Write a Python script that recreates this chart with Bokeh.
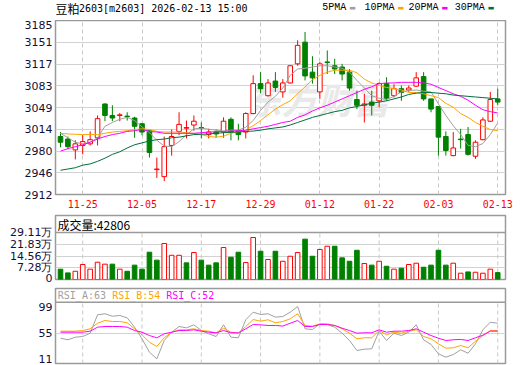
from bokeh.plotting import figure
from bokeh.models import Range1d, FixedTicker, Label, Span
from bokeh.layouts import column
from bokeh.embed import file_html
from bokeh.resources import INLINE

# ---------------- data ----------------
dates = ["11-20", "11-21", "11-24", "11-25", "11-26", "11-27", "11-28",
         "12-01", "12-02", "12-03", "12-04", "12-05", "12-08", "12-09", "12-10",
         "12-11", "12-12", "12-15", "12-16", "12-17", "12-18", "12-19", "12-22",
         "12-23", "12-24", "12-25", "12-26", "12-29", "12-30", "12-31", "01-05",
         "01-06", "01-07", "01-08", "01-09", "01-12", "01-13", "01-14", "01-15",
         "01-16", "01-19", "01-20", "01-21", "01-22", "01-23", "01-26", "01-27",
         "01-28", "01-29", "01-30", "02-02", "02-03", "02-04", "02-05", "02-06",
         "02-09", "02-10", "02-11", "02-12", "02-13"]
label_dates = ["11-25", "12-05", "12-17", "12-29", "01-12", "01-22", "02-03", "02-13"]

opens = [3003, 2999, 2982, 2989, 2991.5, 3001, 3054, 3036, 3036, 3035, 3032, 3023, 3012, 2951, 2940,
         2989, 3011, 3016, 3021, 3017, 3006, 3010, 3010, 3030, 3012, 3010, 3039, 3086, 3067, 3090,
         3073, 3087, 3117, 3151, 3104, 3073, 3120, 3114, 3112, 3104, 3061, 3052, 3057, 3059, 3086,
         3067, 3078, 3076, 3082, 3097, 3062, 3050, 3003, 2973, 2999, 3006, 2972, 2998, 3027, 3062]
highs = [3010, 3003, 2997, 3005, 3011, 3036, 3055, 3052, 3040, 3041, 3034, 3024, 3012, 2970, 3003,
         3014, 3041, 3028, 3036, 3025, 3015, 3014, 3033, 3033, 3023, 3041, 3099, 3104, 3093, 3104,
         3093, 3115, 3154, 3167, 3129, 3120, 3138, 3125, 3117, 3109, 3075, 3070, 3075, 3088, 3096,
         3085, 3083, 3083, 3104, 3104, 3062, 3050, 3011, 3010, 3015, 3018, 2997, 3033, 3073, 3078]
lows = [2986, 2983, 2967, 2975, 2989, 2989, 3027, 3027, 3027, 3028, 3001, 3005, 2970, 2938, 2933,
        2973, 3005, 3000, 3012, 3000, 3000, 3001, 3001, 2997, 2997, 3000, 3038, 3071, 3066, 3073,
        3064, 3086, 3114, 3091, 3086, 3062, 3101, 3101, 3091, 3075, 3046, 3025, 3036, 3049, 3059,
        3064, 3059, 3073, 3081, 3059, 3041, 2973, 2973, 2972, 2984, 2973, 2968, 2997, 3026, 3052]
closes = [2994, 2987, 2991.5, 2995, 2998, 3031, 3036, 3032, 3037, 3034, 3019, 3010, 2978, 2952, 2987,
          3003, 3022, 3017, 3027, 3016, 3010, 3007, 3027, 3010, 3006, 3039, 3086, 3078, 3087, 3080,
          3087, 3114, 3146, 3098, 3095, 3117, 3119, 3109, 3101, 3079, 3052, 3054, 3052, 3086, 3063,
          3078, 3072, 3079, 3095, 3062, 3046, 3002, 2981, 2985, 2998, 2975, 2994, 3029, 3061, 3057]

volumes = [63800, 41000, 51000, 93000, 64000, 107000, 95000, 95000, 64000, 51000, 89000, 64000,
           169000, 120000, 223000, 150000, 150000, 103000, 167000, 120000, 89000, 103000, 198000,
           138000, 169000, 105000, 260000, 175000, 124000, 175000, 113000, 144000, 167000, 250000,
           144000, 186000, 206000, 206000, 134000, 113000, 181000, 99000, 89000, 113000, 82000,
           64000, 70000, 93000, 101000, 76000, 89000, 181000, 89000, 101000, 39000, 47000, 45000,
           39000, 64000, 42806]

ma5 = [3008, 3001, 2994, 2991.5, 2994, 3001, 3019, 3025, 3030, 3033, 3028, 3018, 3009, 2997, 2988,
       2987, 2995, 3006, 3015, 3016, 3014.5, 3013, 3011.5, 3013, 3013, 3017.5, 3028, 3044, 3057, 3066,
       3079, 3099, 3109, 3110, 3112, 3114, 3114, 3112, 3110, 3104, 3091, 3079, 3067, 3063, 3061,
       3066, 3073, 3075, 3076, 3074, 3073, 3054, 3036, 3020, 3006, 2989, 2987, 2992, 3006, 3024]
ma10 = [3008, 3007, 3006.5, 3006, 3006, 3006, 3008, 3010, 3011, 3012, 3014, 3015, 3014, 3011, 3010,
        3010, 3010, 3009, 3008, 3006, 3003, 3002, 3003.5, 3008, 3010.5, 3013, 3020, 3028, 3037, 3046,
        3053, 3059, 3070, 3081, 3092, 3099, 3104, 3107, 3107, 3107, 3103, 3093, 3087, 3083, 3080,
        3078, 3076, 3072, 3072, 3070, 3067, 3064, 3055, 3049, 3039, 3033, 3025, 3019, 3014, 3012]
ma20 = [2980, 2984, 2987, 2990, 2994, 2999, 3003, 3006, 3008, 3011, 3012, 3014, 3011, 3010, 3008,
        3008, 3008, 3008, 3008, 3009, 3010, 3010.5, 3011, 3011.5, 3012, 3013, 3015, 3017, 3019, 3022,
        3025, 3027, 3033, 3037, 3043, 3048, 3052, 3057, 3062, 3067, 3072, 3077, 3081, 3086, 3087,
        3087, 3088, 3088, 3088, 3087, 3085, 3080, 3075, 3070, 3066, 3060, 3052, 3045, 3042, 3040]
ma30 = [2950, 2952, 2954, 2958, 2960, 2964, 2969, 2975, 2979, 2985, 2990, 2993, 2996, 2998, 2999,
        3001, 3002, 3004, 3006, 3006.5, 3007, 3008, 3009, 3009.5, 3010, 3011, 3011.5, 3013, 3015, 3016.5,
        3018, 3021, 3025, 3029, 3033, 3036, 3039, 3042, 3044, 3048, 3050, 3053, 3055, 3057, 3059,
        3062, 3065, 3069, 3071, 3072, 3072, 3071, 3070, 3068, 3067, 3066, 3065, 3064, 3063, 3062]

rsi_a = [46.6, 43.9, 48.3, 49.4, 55, 86, 87.7, 83.6, 84.8, 80.9, 65.1, 45.6, 23, 11.9, 42.7,
         56.7, 66.3, 64, 69.1, 59.5, 54, 49.4, 69.1, 48.3, 47.3, 77.6, 90.4, 86.5, 87.7, 82,
         83.1, 90.4, 99.9, 62.4, 61.2, 70.8, 69.6, 65.1, 55, 42.7, 25.9, 28.1, 28.7, 58.4, 42.7,
         55, 51.1, 56.7, 69.1, 43.9, 36, 20.3, 14.6, 19.1, 27, 21.3, 37.1, 60.7, 73.5, 71.8]
rsi_b = [58.4, 58.4, 58.4, 59.5, 62.4, 71.8, 76.4, 74.7, 74.7, 72.5, 62.4, 52.3, 39.8, 32.6, 47.3,
         56.7, 60.7, 60.7, 62.4, 59.5, 58.4, 55.7, 63.4, 56.7, 55, 66.3, 78, 75.2, 77.6, 72.5,
         74.7, 79.2, 87.7, 68, 66.8, 70.8, 70.8, 68, 62.4, 55, 45.6, 47.3, 47.3, 59.5, 52.3,
         56.7, 55, 58.4, 60.7, 49.4, 45.6, 37.1, 29.8, 30.4, 34.3, 30.4, 41.5, 51.1, 59.5, 59.5]
rsi_c = [56.7, 56.7, 56.7, 56.7, 58.4, 65.1, 66.3, 66.3, 66.3, 65.1, 59.5, 56.7, 51.1, 47.3, 54,
         56.7, 59.5, 59.5, 60.7, 58.4, 56.7, 55.7, 59.5, 55.7, 55.7, 62.4, 69.6, 69.1, 68, 68,
         67, 71.8, 76.4, 66.3, 66.3, 69.6, 69.6, 68, 63.4, 59.5, 55, 55.7, 55.7, 60.7, 56.7,
         58.4, 58.4, 59.5, 62.4, 56.7, 51.1, 46.6, 42.7, 43.9, 44.5, 42.7, 47.3, 51.6, 58.4, 58.4]

price_min, price_max = 2912, 3185
price_tick_labels = ["2912", "2946", "2980", "3014", "3049", "3083", "3117", "3151", "3185"]
vol_axis_max = 291100
vol_tick_labels = ["0", "7.28万", "14.56万", "21.83万", "29.11万"]
rsi_tick_vals = [11, 55, 99]
rsi_mid = 55

title_cn = "豆粕"
title_rest = "2603[m2603] 2026-02-13 15:00"
vol_title = "成交量:42806"
rsi_titles = ["RSI_A:63", "RSI_B:54", "RSI_C:52"]
ma_names = ["5PMA", "10PMA", "20PMA", "30PMA"]

# ---------------- styles ----------------
RED = "#ff0000"
GREEN = "#008000"
MA_COLORS = ["#a0a0a0", "#ffa500", "#ff00ff", "#00703c"]
FRAME = "#9a9a9a"
GRID = "#d2d2d2"
DASH = "#c8c8c8"
AXIS_TXT = "#10103a"
AXIS_FONT = "DejaVu Sans"
LEFT, RIGHT = 55, 15

N = len(closes)
idx = list(range(N))
tick_idx = [dates.index(d) for d in label_dates]
up = [c >= o for o, c in zip(opens, closes)]
c_line = [RED if u else GREEN for u in up]
c_fill = ["white" if u else GREEN for u in up]
b_top = [max(o, c) for o, c in zip(opens, closes)]
b_bot = [min(o, c) for o, c in zip(opens, closes)]
v_up = [up[0]] + [closes[i] >= closes[i - 1] for i in range(1, N)]
v_line = [RED if u else GREEN for u in v_up]
v_fill = ["white" if u else GREEN for u in v_up]

x_range = Range1d(-0.675, N + 0.05)
BODY_W = 0.62


def style_left_axis(p, size="11px"):
    ax = p.yaxis[0]
    ax.axis_line_color = None
    ax.major_tick_out = 0
    ax.major_tick_in = 0
    ax.minor_tick_out = 0
    ax.minor_tick_in = 0
    ax.major_label_standoff = 3
    ax.major_label_text_color = AXIS_TXT
    ax.major_label_text_font = AXIS_FONT
    ax.major_label_text_font_size = size


def base_fig(height, y_range, top, bottom, with_x=False):
    p = figure(width=520, height=height, x_range=x_range, y_range=y_range,
               output_backend="svg", toolbar_location=None, title=None,
               min_border_left=LEFT, min_border_right=RIGHT,
               min_border_top=top, min_border_bottom=bottom,
               x_axis_location="below" if with_x else None)
    p.outline_line_color = FRAME
    p.outline_line_width = 1.5
    p.background_fill_color = "white"
    p.border_fill_color = "white"
    return p


# ---------------- header strip (title + MA legend) ----------------
p0 = figure(width=520, height=20, x_range=Range1d(0, 1), y_range=Range1d(0, 1),
            output_backend="svg", toolbar_location=None, title=None,
            min_border_left=LEFT, min_border_right=RIGHT, min_border_top=0, min_border_bottom=0,
            x_axis_location=None, y_axis_location=None)
p0.outline_line_color = None
p0.grid.visible = False
p0.background_fill_color = "white"
p0.border_fill_color = "white"
# x below is measured from the left edge of the plot frame (canvas x 55)
p0.add_layout(Label(x=0, y=12, x_units="screen", y_units="screen", text=title_cn,
                    text_font="Noto Sans CJK SC", text_font_size="12px", text_color="#000000",
                    text_baseline="middle"))
p0.add_layout(Label(x=23.5, y=12, x_units="screen", y_units="screen", text=title_rest,
                    text_font="DejaVu Sans Mono", text_font_size="10px", text_color="#000000",
                    text_baseline="middle"))
leg_x = [266.7, 309, 353, 399.3]
for name, col, lx in zip(ma_names, MA_COLORS, leg_x):
    p0.add_layout(Label(x=lx, y=13, x_units="screen", y_units="screen", text=name,
                        text_font="Liberation Mono", text_font_size="10px", text_color="#000000",
                        text_baseline="middle"))
    p0.add_layout(Label(x=lx + 6.0 * len(name) + 3, y=13, x_units="screen", y_units="screen",
                        text="▬", text_font="DejaVu Sans", text_font_size="7px", text_color=col,
                        text_baseline="middle"))

# ---------------- main (price) ----------------
p1 = base_fig(194, Range1d(price_min, price_max), 0, 20, with_x=True)
step = (price_max - price_min) / (len(price_tick_labels) - 1)
ptick_vals = [price_min + k * step for k in range(len(price_tick_labels))]
style_left_axis(p1)
p1.yaxis[0].ticker = FixedTicker(ticks=ptick_vals)
p1.yaxis[0].major_label_overrides = {v: s for v, s in zip(ptick_vals, price_tick_labels)}
p1.ygrid.ticker = FixedTicker(ticks=ptick_vals[1:-1])
p1.ygrid.grid_line_color = GRID

xa = p1.xaxis[0]
xa.ticker = FixedTicker(ticks=tick_idx)
xa.major_label_overrides = {i: dates[i] for i in tick_idx}
xa.axis_line_color = None
xa.major_tick_out = 0
xa.major_tick_in = 0
xa.minor_tick_out = 0
xa.minor_tick_in = 0
xa.major_label_standoff = 5
xa.major_label_text_color = RED
xa.major_label_text_font = "DejaVu Sans Mono"
xa.major_label_text_font_size = "10px"
p1.xgrid.grid_line_color = DASH
p1.xgrid.grid_line_dash = "4 3"

p1.add_layout(Label(x=190, y=97, x_units="screen", y_units="screen", text="东方财富",
                    text_font="Noto Sans CJK SC", text_font_size="36px", text_font_style="bold italic",
                    text_color="#e9e9e9", text_baseline="middle", level="underlay"))

p1.segment(x0=idx, y0=lows, x1=idx, y1=highs, line_color=c_line, line_width=1)
p1.vbar(x=idx, width=BODY_W, top=b_top, bottom=b_bot, fill_color=c_fill, line_color=c_line, line_width=1)
for series, col in zip([ma5, ma10, ma20, ma30], MA_COLORS):
    p1.line(idx, series, line_color=col, line_width=1)

# ---------------- volume ----------------
vol_frame_px, vol_plot_px = 64, 47
vol_top = vol_axis_max * vol_frame_px / vol_plot_px
p2 = base_fig(70, Range1d(0, vol_top), 1, 5)
vstep = vol_axis_max / (len(vol_tick_labels) - 1)
vtick_vals = [round(k * vstep) for k in range(len(vol_tick_labels))]
style_left_axis(p2)
p2.yaxis[0].ticker = FixedTicker(ticks=vtick_vals)
p2.yaxis[0].major_label_overrides = {v: s for v, s in zip(vtick_vals, vol_tick_labels)}
p2.ygrid.ticker = FixedTicker(ticks=vtick_vals[1:-1])
p2.ygrid.grid_line_color = GRID
p2.xgrid.visible = False
p2.segment(x0=tick_idx, y0=[0] * len(tick_idx), x1=tick_idx, y1=[vol_axis_max] * len(tick_idx),
           line_color=DASH, line_dash="4 3", line_width=1)
p2.add_layout(Span(location=vol_axis_max, dimension="width", line_color=FRAME, line_width=1.5))
p2.vbar(x=idx, width=BODY_W, top=volumes, bottom=0, fill_color=v_fill, line_color=v_line, line_width=1)
p2.add_layout(Label(x=2, y=55, x_units="screen", y_units="screen", text=vol_title,
                    text_font="Noto Sans CJK SC", text_font_size="12px", text_color="#000000",
                    text_baseline="middle"))

# ---------------- RSI ----------------
rsi_px = 0.594          # px per RSI unit
rsi_mid_px = 332.7 - 288  # mid line from frame top
rsi_frame_px = 75
r_hi = rsi_mid + rsi_mid_px / rsi_px
r_lo = rsi_mid - (rsi_frame_px - rsi_mid_px) / rsi_px
r_sep = rsi_mid + (rsi_mid_px - 13.7) / rsi_px
p3 = base_fig(81, Range1d(r_lo, r_hi), 4, 2)
style_left_axis(p3)
p3.yaxis[0].ticker = FixedTicker(ticks=rsi_tick_vals)
p3.ygrid.ticker = FixedTicker(ticks=[rsi_mid])
p3.ygrid.grid_line_color = GRID
p3.xgrid.visible = False
p3.segment(x0=tick_idx, y0=[r_lo] * len(tick_idx), x1=tick_idx, y1=[r_sep] * len(tick_idx),
           line_color=DASH, line_dash="4 3", line_width=1)
p3.add_layout(Span(location=r_sep, dimension="width", line_color=FRAME, line_width=1.5))
for series, col in zip([rsi_a, rsi_b, rsi_c], MA_COLORS[:3]):
    p3.line(idx, series, line_color=col, line_width=1)
for txt, col, lx in zip(rsi_titles, MA_COLORS[:3], [2.3, 56.7, 110.7]):
    p3.add_layout(Label(x=lx, y=68, x_units="screen", y_units="screen", text=txt,
                        text_font="DejaVu Sans Mono", text_font_size="10px", text_color=col,
                        text_baseline="middle"))

layout = column(p0, p1, p2, p3, spacing=0)
open("out.html", "w").write(file_html(layout, INLINE))
